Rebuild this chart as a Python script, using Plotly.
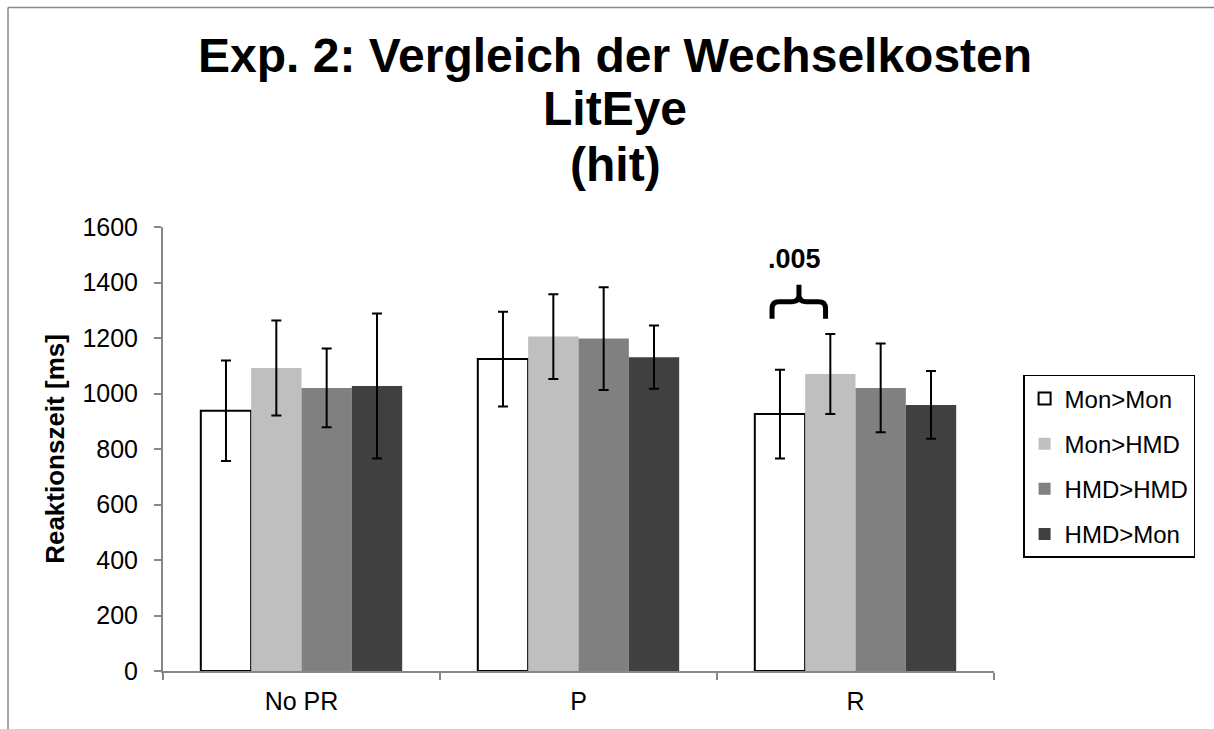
import plotly.graph_objects as go

categories = ["No PR", "P", "R"]
series_names = ["Mon>Mon", "Mon>HMD", "HMD>HMD", "HMD>Mon"]
values = {
    "Mon>Mon": [938, 1124, 926],
    "Mon>HMD": [1092, 1205, 1070],
    "HMD>HMD": [1020, 1198, 1020],
    "HMD>Mon": [1027, 1131, 959],
}
errors = {
    "Mon>Mon": [181, 171, 160],
    "Mon>HMD": [171, 153, 144],
    "HMD>HMD": [142, 185, 160],
    "HMD>Mon": [261, 114, 122],
}
fills = {"Mon>Mon": "#FFFFFF", "Mon>HMD": "#BFBFBF", "HMD>HMD": "#808080", "HMD>Mon": "#404040"}
title_lines = ["Exp. 2: Vergleich der Wechselkosten", "LitEye", "(hit)"]
y_ticks = [0, 200, 400, 600, 800, 1000, 1200, 1400, 1600]
sig_label = ".005"

FONT = "Arial, 'Liberation Sans', sans-serif"

fig = go.Figure()
for i, name in enumerate(series_names):
    is_first = i == 0
    fig.add_trace(go.Bar(
        name=name,
        x=categories,
        y=values[name],
        marker=dict(color=fills[name],
                    line=dict(color="#000000" if is_first else fills[name], width=2 if is_first else 0)),
        error_y=dict(type="data", array=errors[name], visible=True, color="#000000", thickness=2, width=5),
        legendgroup=name,
    ))

fig.update_layout(
    width=1214, height=729,
    margin=dict(l=163, r=220, t=227, b=58),
    paper_bgcolor="white", plot_bgcolor="white",
    barmode="group", bargap=0.273, bargroupgap=0,
    font=dict(family=FONT, color="#000000", size=22),
    showlegend=True,
    legend=dict(x=1.035, y=0.667, xanchor="left", yanchor="top",
                bordercolor="#000000", borderwidth=1.5,
                font=dict(family=FONT, size=24, color="#000000"),
                tracegroupgap=11, traceorder="grouped", itemwidth=30),
)
fig.update_xaxes(
    showline=True, linecolor="#868686", linewidth=2,
    ticks="outside", tickson="boundaries", ticklen=7, tickcolor="#868686", tickwidth=2,
    tickfont=dict(size=25, family=FONT), ticklabelstandoff=7,
    showgrid=False, zeroline=False,
)
fig.update_yaxes(
    range=[0, 1600], tickvals=y_ticks,
    showline=True, linecolor="#868686", linewidth=2,
    ticks="outside", ticklen=7, tickcolor="#868686", tickwidth=2,
    tickfont=dict(size=25, family=FONT), ticklabelstandoff=11,
    showgrid=False, zeroline=False,
    title=dict(text="<b>Reaktionszeit [ms]</b>", font=dict(size=26, family=FONT), standoff=10),
)

# Title as three lines
title_y = [1.3854, 1.2659, 1.1418]
for txt, yy in zip(title_lines, title_y):
    fig.add_annotation(text="<b>%s</b>" % txt, xref="paper", yref="paper", x=0.544, y=yy,
                       xanchor="center", yanchor="middle", showarrow=False,
                       font=dict(size=48, family=FONT, color="#000000"))

# significance annotation and brace
fig.add_annotation(text="<b>%s</b>" % sig_label, xref="paper", yref="paper",
                   x=(794 - 163) / 831, y=(670.7 - 259) / 443.4,
                   xanchor="center", yanchor="middle", showarrow=False,
                   font=dict(size=27, family=FONT, color="#000000"))
x1, xm, x2 = 0.7329, 0.7653, 0.7973
yb, yh, yt = 1269, 1331, 1392
dx, dy = 0.0084, 25
brace = (f"M {x1},{yb} L {x1},{yh-dy} Q {x1},{yh} {x1+dx},{yh} L {xm-dx},{yh} Q {xm},{yh} {xm},{yh+dy} L {xm},{yt} "
         f"M {xm},{yh+dy} Q {xm},{yh} {xm+dx},{yh} L {x2-dx},{yh} Q {x2},{yh} {x2},{yh-dy} L {x2},{yb}")
fig.add_shape(type="path", path=brace, xref="paper", yref="y", line=dict(color="#000000", width=5))

# outer chart frame (partially visible)
fig.add_shape(type="line", xref="paper", yref="paper", x0=-0.1865, x1=1.27, y0=1.4946, y1=1.4946,
              line=dict(color="#888888", width=1.5))
fig.add_shape(type="line", xref="paper", yref="paper", x0=-0.1865, x1=-0.1865, y0=1.4946, y1=-0.14,
              line=dict(color="#888888", width=1.5))

fig.write_html("out.html")
